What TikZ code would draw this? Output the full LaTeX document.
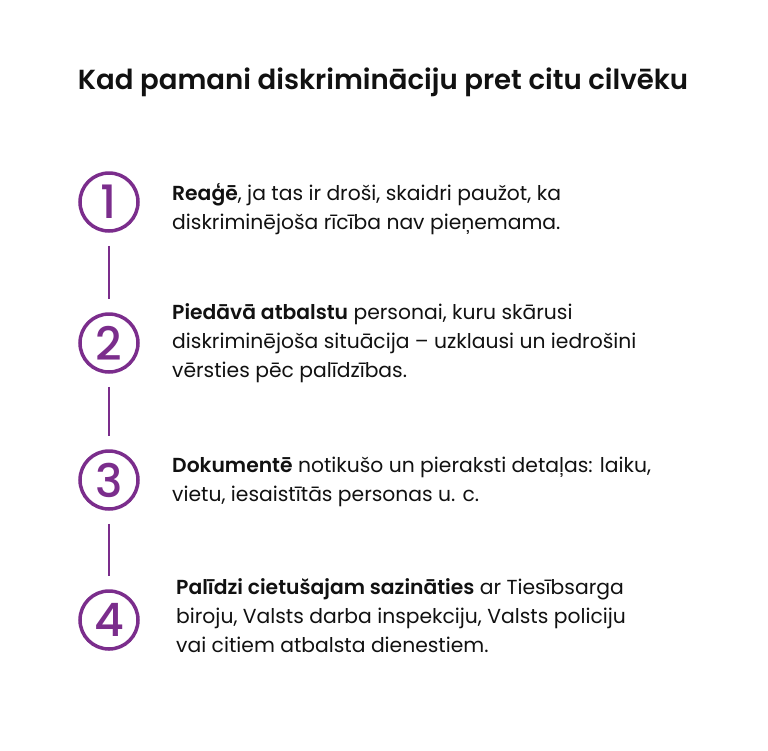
\documentclass[tikz,border=0pt]{standalone}
\usepackage{fontspec}
\IfFontExistsTF{Poppins SemiBold}{\setmainfont{Poppins}[BoldFont={Poppins SemiBold}]}{\setmainfont{Poppins}}
\IfFontExistsTF{Poppins Medium}{\newfontfamily\numFont{Poppins Medium}}{\newfontfamily\numFont{Poppins}}
\IfFontExistsTF{Poppins SemiBold}{\newfontfamily\titleFont{Poppins SemiBold}}{\newcommand\titleFont{\bfseries}}
\usetikzlibrary{positioning}
\definecolor{stepPurple}{HTML}{7B2D8C}
\definecolor{mainBlack}{HTML}{111111}

\begin{document}
\begin{tikzpicture}[x=1pt, y=-1pt,
    numCircle/.style={circle, draw=stepPurple, line width=3.5pt, minimum size=58pt, inner sep=0pt,
      text=stepPurple, font=\numFont\fontsize{46}{46}\selectfont},
    stepLink/.style={draw=stepPurple, line width=2.5pt, shorten <=13pt, shorten >=13pt},
    stepText/.style={anchor=base west, align=left, inner sep=0pt, text=mainBlack,
      font=\fontsize{20.3}{29}\selectfont}]
    \useasboundingbox[fill=white] (0,0) rectangle (768,750);

    \node[anchor=base, text=mainBlack, font=\titleFont\fontsize{27.6}{30}\selectfont] (title) at (383,89)
      {Kad pamani diskrimināciju pret citu cilvēku};

    % circles
    \foreach \i/\y in {1/202, 2/343, 3/480, 4/620}
      \node[numCircle] (n\i) at (109,\y) {\i};
    \draw[stepLink] (n1) -- (n2);
    \draw[stepLink] (n2) -- (n3);
    \draw[stepLink] (n3) -- (n4);

    % texts (anchored at the baseline of the last line)
    \node[stepText] (t1) at (172,229) {\textbf{Reaģē}, ja tas ir droši, skaidri paužot, ka\\
      diskriminējoša rīcība nav pieņemama.};
    \node[stepText] (t2) at (172,377) {\textbf{Piedāvā atbalstu} personai, kuru skārusi\\
      diskriminējoša situācija – uzklausi un iedrošini\\
      vērsties pēc palīdzības.};
    \node[stepText] (t3) at (172,501) {\textbf{Dokumentē} notikušo un pieraksti detaļas: laiku,\\
      vietu, iesaistītās personas u. c.};
    \node[stepText] (t4) at (176,652) {\textbf{Palīdzi cietušajam sazināties} ar Tiesībsarga\\
      biroju, Valsts darba inspekciju, Valsts policiju\\
      vai citiem atbalsta dienestiem.};
\end{tikzpicture}
\end{document}
